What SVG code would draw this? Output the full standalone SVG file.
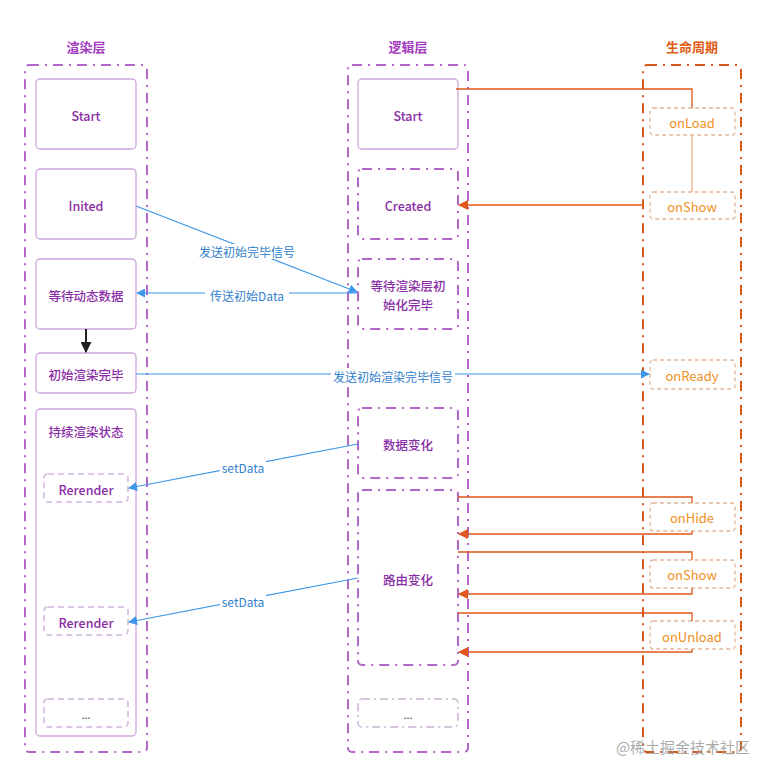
<svg xmlns="http://www.w3.org/2000/svg" width="777" height="777" viewBox="0 0 777 777">
<defs>
<style>
text{font-family:"Noto Sans CJK SC","Noto Sans",sans-serif;text-anchor:middle;dominant-baseline:central}
.title{font-size:13px;font-weight:700;fill:#a33cbf}
.title.o{fill:#e05a12}
.col{fill:none;stroke:#b466c8;stroke-width:2;stroke-dasharray:10 6 2 6}
.col.o{stroke:#d6571a}
.box{fill:#fff;stroke:#cfa6dc;stroke-width:1.3}
.dbox{fill:#fff;stroke:#b466c8;stroke-width:2;stroke-dasharray:10 6 2 6}
.rbox{fill:#fff;stroke:#d2b4dc;stroke-width:1.5;stroke-dasharray:6 4}
.gbox{fill:#fff;stroke:#c9b2d2;stroke-width:1.5;stroke-dasharray:8 4 2 4}
.lbox{fill:#fff;stroke:#e2b89a;stroke-width:1.3;stroke-dasharray:4 3}
.nt{font-size:12.5px;font-weight:500;fill:#8a2ea6}
.lt{font-size:13px;fill:#f0901c}
.bl{fill:none;stroke:#3d97e8;stroke-width:1.2}
.or{fill:none;stroke:#e0581c;stroke-width:1.3}
.ol{fill:none;stroke:#eeb48a;stroke-width:1.3}
.lab{font-size:12px;fill:#2f80cc}
</style>
<marker id="ab" viewBox="0 0 10 10" refX="9" refY="5" markerWidth="9" markerHeight="9" markerUnits="userSpaceOnUse" orient="auto"><path d="M0,0L10,5L0,10z" fill="#3d97e8"/></marker>
<marker id="ao" viewBox="0 0 10 10" refX="9" refY="5" markerWidth="10" markerHeight="10" markerUnits="userSpaceOnUse" orient="auto"><path d="M0,0L10,5L0,10z" fill="#e0581c"/></marker>
<marker id="ak" viewBox="0 0 10 10" refX="9" refY="5" markerWidth="11" markerHeight="11" markerUnits="userSpaceOnUse" orient="auto"><path d="M0,0L10,5L0,10z" fill="#222"/></marker>
</defs>
<rect width="777" height="777" fill="#fff"/>

<g id="titles">
<text class="title" x="86" y="46">渲染层</text>
<text class="title" x="408" y="46">逻辑层</text>
<text class="title o" x="692" y="46">生命周期</text>
</g>

<g id="columns">
<rect id="render-layer" class="col" x="25" y="65" width="122" height="687" rx="4"/>
<rect id="logic-layer" class="col" x="348" y="65" width="120" height="687" rx="4"/>
<rect id="lifecycle" class="col o" x="643" y="65" width="98" height="687" rx="4"/>
</g>

<g id="r-start"><rect class="box" x="36" y="79" width="100" height="70" rx="4"/><text class="nt" x="86" y="115">Start</text></g>
<g id="r-inited"><rect class="box" x="36" y="169" width="100" height="70" rx="4"/><text class="nt" x="86" y="205">Inited</text></g>
<g id="r-wait"><rect class="box" x="36" y="259" width="100" height="70" rx="4"/><text class="nt" x="86" y="295">等待动态数据</text></g>
<g id="r-initdone"><rect class="box" x="36" y="353" width="100" height="40" rx="4"/><text class="nt" x="86" y="374">初始渲染完毕</text></g>
<g id="r-continuous"><rect class="box" x="36" y="409" width="100" height="327" rx="4"/><text class="nt" x="86" y="431">持续渲染状态</text></g>
<g id="r-rerender1"><rect class="rbox" x="44" y="474" width="84" height="28" rx="4"/><text class="nt" x="86" y="489">Rerender</text></g>
<g id="r-rerender2"><rect class="rbox" x="44" y="607" width="84" height="28" rx="4"/><text class="nt" x="86" y="622">Rerender</text></g>
<g id="r-more"><rect class="rbox" x="44" y="699" width="84" height="28" rx="4"/><text x="86" y="714" font-size="11" fill="#333">...</text></g>

<g id="l-start"><rect class="box" x="358" y="79" width="100" height="70" rx="4"/><text class="nt" x="408" y="115">Start</text></g>
<g id="l-created"><rect class="dbox" x="358" y="169" width="100" height="70" rx="4"/><text class="nt" x="408" y="205">Created</text></g>
<g id="l-wait"><rect class="dbox" x="358" y="259" width="100" height="70" rx="4"/><text class="nt" x="408" y="285">等待渲染层初</text><text class="nt" x="408" y="304">始化完毕</text></g>
<g id="l-datachange"><rect class="dbox" x="358" y="408" width="100" height="70" rx="4"/><text class="nt" x="408" y="444">数据变化</text></g>
<g id="l-route"><rect class="dbox" x="358" y="490" width="100" height="175" rx="4"/><text class="nt" x="408" y="579">路由变化</text></g>
<g id="l-more"><rect class="gbox" x="358" y="699" width="100" height="28" rx="4"/><text x="408" y="714" font-size="11" fill="#333">...</text></g>

<g id="lc-onload"><rect class="lbox" x="650" y="108" width="85" height="27" rx="3"/><text class="lt" x="692" y="122">onLoad</text></g>
<g id="lc-onshow"><rect class="lbox" x="650" y="192" width="85" height="27" rx="3"/><text class="lt" x="692" y="206">onShow</text></g>
<g id="lc-onready"><rect class="lbox" x="650" y="360" width="85" height="29" rx="3"/><text class="lt" x="692" y="375">onReady</text></g>
<g id="lc-onhide"><rect class="lbox" x="650" y="503" width="85" height="28" rx="3"/><text class="lt" x="692" y="517">onHide</text></g>
<g id="lc-onshow2"><rect class="lbox" x="650" y="560" width="85" height="28" rx="3"/><text class="lt" x="692" y="574">onShow</text></g>
<g id="lc-onunload"><rect class="lbox" x="650" y="621" width="85" height="28" rx="3"/><text class="lt" x="692" y="636">onUnload</text></g>

<g id="connectors">
<path class="or" d="M456,89H692V108"/>
<path class="ol" d="M692,135V192"/>
<path class="or" d="M643,205H459" marker-end="url(#ao)"/>
<path class="bl" d="M136,206L357,292" marker-end="url(#ab)"/>
<path class="bl" d="M357,293H137" marker-end="url(#ab)"/>
<path d="M86,329V352" fill="none" stroke="#222" stroke-width="2" marker-end="url(#ak)"/>
<path class="bl" d="M136,374H649" marker-end="url(#ab)"/>
<path class="bl" d="M358,444L129,488" marker-end="url(#ab)"/>
<path class="bl" d="M358,578L129,622" marker-end="url(#ab)"/>
<path class="or" d="M458,497H692V503"/>
<path class="or" d="M692,531V534H459" marker-end="url(#ao)"/>
<path class="or" d="M458,552H692V560"/>
<path class="or" d="M692,588V594H459" marker-end="url(#ao)"/>
<path class="or" d="M458,613H692V621"/>
<path class="or" d="M692,649V652H459" marker-end="url(#ao)"/>
</g>

<g id="labels">
<rect x="196" y="244" width="102" height="15" fill="#fff"/>
<text class="lab" x="247" y="251">发送初始完毕信号</text>
<rect x="205" y="287" width="84" height="14" fill="#fff"/>
<text class="lab" x="247" y="295">传送初始Data</text>
<rect x="331" y="368" width="124" height="15" fill="#fff"/>
<text class="lab" x="393" y="376">发送初始渲染完毕信号</text>
<rect x="220" y="460" width="46" height="14" fill="#fff"/>
<text class="lab" x="243" y="467">setData</text>
<rect x="220" y="594" width="46" height="14" fill="#fff"/>
<text class="lab" x="243" y="601">setData</text>
</g>

<text x="683" y="746" font-size="15" fill="#9a9a9a" fill-opacity="0.85">@稀土掘金技术社区</text>
</svg>
